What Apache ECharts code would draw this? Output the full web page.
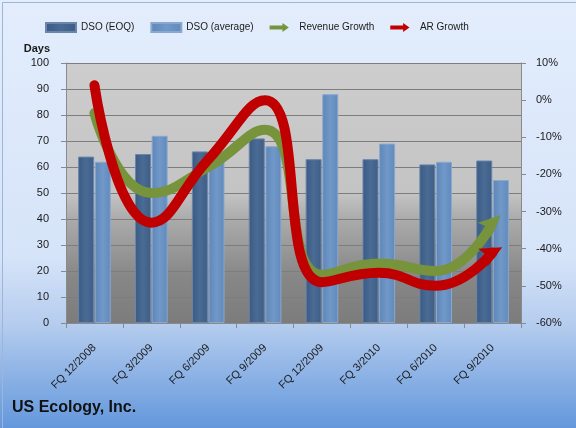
<!DOCTYPE html>
<html>
<head>
<meta charset="utf-8">
<script src="https://cdn.jsdelivr.net/npm/echarts@6/dist/echarts.min.js"></script>
<style>
  html, body { margin: 0; padding: 0; }
  #chart { width: 576px; height: 428px; }
</style>
</head>
<body>
<div id="chart"></div>
<script>
const categories = ['FQ 12/2008', 'FQ 3/2009', 'FQ 6/2009', 'FQ 9/2009', 'FQ 12/2009', 'FQ 3/2010', 'FQ 6/2010', 'FQ 9/2010']
const dsoEoq = [64, 65, 66, 71, 63, 63, 61, 62.5]
const dsoAvg = [62, 72, 64, 68, 88, 69, 62, 55]
const revenueGrowth = [-3.5, -25, -18, -8, -47, -44, -46, -33]
const arGrowth = [4, -33, -16, 0, -49, -46.5, -50, -41]
const leftTicks = { min: 0, max: 100, interval: 10 }
const rightTicks = { min: -60, max: 10, interval: 10 }

const font = 'Liberation Sans'
const arrowIcon = 'path://M0,4 L20,4 L20,0 L30,7 L20,14 L20,10 L0,10 Z'
// arrow head pointing right, rotated per series
const headPath = 'path://M0,0 L24,10 L0,20 L5,10 Z'

// last point of a growth line gets an arrow head
function withArrow(values, rotate) {
  return values.map((v, i) => {
    if (i < values.length - 1) return v
    return { value: v, symbol: headPath, symbolSize: [22, 20], symbolRotate: rotate }
  })
}

const grad = (dir, stops) => new echarts.graphic.LinearGradient(dir[0], dir[1], dir[2], dir[3],
  stops.map(s => ({ offset: s[0], color: s[1] })))

const option = {
  backgroundColor: grad([0, 0, 0, 1], [[0, '#e3edfc'], [0.6, '#d6e4f9'], [0.76, '#b4ccee'], [1, '#6397dc']]),
  textStyle: { fontFamily: font },
  animation: false,
  graphic: [{
    type: 'rect',
    left: 0,
    top: 0,
    shape: { width: 575, height: 427 },
    style: { fill: 'none', stroke: '#9db6d8', lineWidth: 1 },
    silent: true
  }],
  legend: {
    top: 17,
    left: 40,
    itemWidth: 30,
    itemHeight: 9,
    itemGap: 16,
    textStyle: { fontSize: 10, color: '#1a1a1a', fontFamily: font },
    data: [
      { name: 'DSO (EOQ)', icon: 'rect' },
      { name: 'DSO (average)', icon: 'rect' },
      { name: 'Revenue Growth', icon: arrowIcon },
      { name: 'AR Growth', icon: arrowIcon }
    ]
  },
  title: {
    text: 'US Ecology, Inc.',
    left: 12,
    top: 400,
    padding: 0,
    textStyle: { fontSize: 16, fontWeight: 'bold', color: '#111', fontFamily: font }
  },
  grid: {
    left: 66,
    right: 55,
    top: 63,
    bottom: 105,
    show: true,
    borderWidth: 0,
    backgroundColor: grad([0, 0, 0, 1], [[0, '#cdcdcd'], [0.5, '#c4c4c4'], [0.6, '#ababab'], [0.82, '#878787'], [1, '#7c7c7c']])
  },
  xAxis: {
    type: 'category',
    data: categories,
    axisLine: { lineStyle: { color: '#8a8a8a' } },
    axisTick: { show: true, length: 5, lineStyle: { color: '#8a8a8a' } },
    axisLabel: { rotate: 45, fontSize: 11, color: '#1a1a1a', margin: 23, interval: 0 }
  },
  yAxis: [
    {
      type: 'value',
      name: 'Days',
      nameLocation: 'end',
      nameGap: 9,
      nameTextStyle: { fontSize: 11, fontWeight: 'bold', color: '#1a1a1a', align: 'right', padding: [0, 16, 0, 0] },
      min: leftTicks.min,
      max: leftTicks.max,
      interval: leftTicks.interval,
      axisLine: { show: true, lineStyle: { color: '#8a8a8a' } },
      axisTick: { show: true, length: 5, lineStyle: { color: '#8a8a8a' } },
      axisLabel: { fontSize: 11, color: '#1a1a1a', margin: 17 },
      splitLine: { lineStyle: { color: '#7d7d7d' } }
    },
    {
      type: 'value',
      min: rightTicks.min,
      max: rightTicks.max,
      interval: rightTicks.interval,
      axisLine: { show: true, lineStyle: { color: '#8a8a8a' } },
      axisTick: { show: true, length: 5, lineStyle: { color: '#8a8a8a' } },
      axisLabel: { fontSize: 11, color: '#1a1a1a', margin: 15, formatter: '{value}%' },
      splitLine: { show: false }
    }
  ],
  series: [
    {
      name: 'DSO (EOQ)',
      type: 'bar',
      data: dsoEoq,
      barWidth: 16,
      barGap: '4%',
      itemStyle: {
        color: grad([0, 0, 1, 0], [[0, '#3a5a82'], [0.5, '#4a6b94'], [1, '#3d5d85']]),
        borderColor: '#6a86aa',
        borderWidth: 1
      }
    },
    {
      name: 'DSO (average)',
      type: 'bar',
      data: dsoAvg,
      barWidth: 16,
      itemStyle: {
        color: grad([0, 0, 1, 0], [[0, '#5d86b8'], [0.5, '#7098c8'], [1, '#6189bb']]),
        borderColor: '#8aa8cf',
        borderWidth: 1
      }
    },
    {
      name: 'Revenue Growth',
      type: 'line',
      yAxisIndex: 1,
      smooth: 0.5,
      symbol: 'none',
      data: withArrow(revenueGrowth, 42),
      lineStyle: { color: '#77933c', width: 10, cap: 'round' },
      itemStyle: { color: '#77933c' }
    },
    {
      name: 'AR Growth',
      type: 'line',
      yAxisIndex: 1,
      smooth: 0.5,
      symbol: 'none',
      data: withArrow(arGrowth, 28),
      lineStyle: { color: '#c00000', width: 10, cap: 'round' },
      itemStyle: { color: '#c00000' }
    }
  ]
}

const myChart = echarts.init(document.getElementById('chart'))
myChart.setOption(option, true)
</script>
</body>
</html>
